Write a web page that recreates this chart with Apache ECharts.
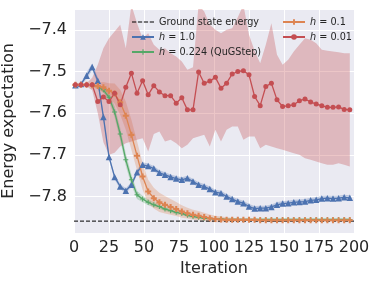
<!DOCTYPE html>
<html>
<head>
<meta charset="utf-8">
<script src="https://cdn.jsdelivr.net/npm/echarts@6/dist/echarts.min.js"></script>
<style>
html,body{margin:0;padding:0;background:#fff;}
#c{width:379px;height:284px;}
</style>
</head>
<body>
<div id="c"></div>
<script>
var iterations = [1,5,9,13,17,21,25,29,33,37,41,45,49,53,57,61,65,69,73,77,81,85,89,93,97,101,105,109,113,117,121,125,129,133,137,141,145,149,153,157,161,165,169,173,177,181,185,189,193,197];
var groundState = -7.859;
var xTicks = [0,25,50,75,100,125,150,175,200];

var h1 = [-7.533,-7.530,-7.510,-7.489,-7.522,-7.609,-7.705,-7.753,-7.776,-7.786,-7.772,-7.742,-7.724,-7.727,-7.733,-7.743,-7.748,-7.753,-7.757,-7.760,-7.756,-7.764,-7.772,-7.776,-7.782,-7.790,-7.792,-7.800,-7.806,-7.812,-7.816,-7.824,-7.829,-7.828,-7.828,-7.825,-7.820,-7.817,-7.816,-7.814,-7.813,-7.812,-7.809,-7.808,-7.805,-7.804,-7.805,-7.804,-7.802,-7.803];
var h1Spread = [0.002,0.003,0.008,0.008,0.008,0.007,0.006,0.006,0.006,0.006,0.006,0.006,0.006,0.006,0.006,0.006,0.006,0.006,0.006,0.006,0.006,0.006,0.006,0.006,0.006,0.006,0.006,0.006,0.006,0.006,0.006,0.006,0.006,0.006,0.006,0.006,0.006,0.006,0.006,0.006,0.006,0.006,0.006,0.006,0.006,0.006,0.006,0.006,0.006,0.006];

var h0224 = [-7.532,-7.532,-7.532,-7.533,-7.536,-7.544,-7.562,-7.597,-7.650,-7.712,-7.760,-7.796,-7.806,-7.814,-7.820,-7.824,-7.830,-7.834,-7.838,-7.841,-7.845,-7.848,-7.850,-7.852,-7.853,-7.854,-7.854,-7.855,-7.855,-7.855,-7.855,-7.855,-7.855,-7.855,-7.855,-7.855,-7.855,-7.855,-7.855,-7.855,-7.855,-7.855,-7.855,-7.855,-7.855,-7.855,-7.855,-7.855,-7.855,-7.855];
var h0224Spread = [0.001,0.001,0.001,0.002,0.003,0.006,0.010,0.013,0.015,0.015,0.013,0.010,0.008,0.007,0.006,0.006,0.005,0.005,0.005,0.004,0.004,0.004,0.004,0.003,0.003,0.003,0.003,0.003,0.003,0.002,0.002,0.002,0.002,0.002,0.002,0.002,0.002,0.002,0.002,0.002,0.002,0.002,0.002,0.002,0.002,0.002,0.002,0.002,0.002,0.002];

var h01 = [-7.532,-7.532,-7.532,-7.533,-7.535,-7.538,-7.546,-7.553,-7.574,-7.606,-7.652,-7.702,-7.752,-7.788,-7.804,-7.814,-7.820,-7.825,-7.830,-7.836,-7.840,-7.844,-7.846,-7.849,-7.852,-7.854,-7.855,-7.856,-7.856,-7.856,-7.856,-7.856,-7.856,-7.857,-7.857,-7.857,-7.857,-7.857,-7.857,-7.857,-7.857,-7.857,-7.857,-7.857,-7.857,-7.857,-7.857,-7.857,-7.857,-7.857];
var h01Spread = [0.001,0.001,0.001,0.004,0.008,0.013,0.018,0.024,0.030,0.034,0.036,0.035,0.032,0.028,0.025,0.023,0.021,0.019,0.017,0.015,0.013,0.012,0.011,0.010,0.009,0.008,0.007,0.006,0.005,0.004,0.003,0.003,0.003,0.003,0.003,0.003,0.003,0.003,0.003,0.003,0.003,0.003,0.003,0.003,0.003,0.003,0.003,0.003,0.003,0.003];

var h001 = [-7.532,-7.532,-7.532,-7.532,-7.572,-7.561,-7.572,-7.552,-7.580,-7.538,-7.504,-7.552,-7.522,-7.556,-7.534,-7.549,-7.558,-7.558,-7.576,-7.563,-7.592,-7.592,-7.501,-7.528,-7.523,-7.514,-7.540,-7.528,-7.506,-7.500,-7.498,-7.508,-7.560,-7.582,-7.536,-7.528,-7.568,-7.584,-7.582,-7.580,-7.570,-7.566,-7.573,-7.578,-7.582,-7.586,-7.586,-7.585,-7.591,-7.592];
var h001Upper = [-7.530,-7.530,-7.528,-7.515,-7.484,-7.444,-7.420,-7.404,-7.388,-7.444,-7.340,-7.384,-7.420,-7.408,-7.436,-7.448,-7.444,-7.456,-7.464,-7.476,-7.496,-7.490,-7.340,-7.356,-7.388,-7.400,-7.408,-7.400,-7.396,-7.370,-7.340,-7.412,-7.450,-7.480,-7.436,-7.384,-7.460,-7.484,-7.472,-7.452,-7.436,-7.420,-7.424,-7.432,-7.448,-7.450,-7.452,-7.454,-7.456,-7.456];
var h001Lower = [-7.534,-7.534,-7.536,-7.545,-7.600,-7.670,-7.700,-7.695,-7.680,-7.672,-7.668,-7.664,-7.660,-7.692,-7.650,-7.644,-7.668,-7.664,-7.672,-7.684,-7.676,-7.660,-7.656,-7.652,-7.680,-7.640,-7.668,-7.640,-7.632,-7.632,-7.664,-7.656,-7.656,-7.684,-7.676,-7.680,-7.684,-7.688,-7.692,-7.696,-7.700,-7.708,-7.712,-7.716,-7.720,-7.724,-7.724,-7.720,-7.724,-7.728];

var C = {blue:'#4C72B0', green:'#55A868', orange:'#DD8452', red:'#C44E52'};
var plusThick = 'path://M-1.1,-3.2H1.1V-1.1H3.2V1.1H1.1V3.2H-1.1V1.1H-3.2V-1.1H-1.1Z';
var plusThin = 'path://M-0.6,-3H0.6V-0.6H3V0.6H0.6V3H-0.6V0.6H-3V-0.6H-0.6Z';
var dashIcon = 'path://M0,0H4V1H0Z M5.6,0H9.6V1H5.6Z M11.2,0H15.2V1H11.2Z M16.8,0H20.8V1H16.8Z';

function pairs(vals){ return iterations.map(function(x,i){ return [x, vals[i]]; }); }
function addSub(v, s, sign){ return v.map(function(a,i){ return a + sign*s[i]; }); }

function band(lower, upper, color, alpha){
  return {
    type:'custom', silent:true, z:2,
    data:[[iterations[0], lower[0]]],
    renderItem:function(params, api){
      var pts = [], i;
      for (i = 0; i < iterations.length; i++) pts.push(api.coord([iterations[i], upper[i]]));
      for (i = iterations.length - 1; i >= 0; i--) pts.push(api.coord([iterations[i], lower[i]]));
      var cs = params.coordSys;
      return {type:'polygon', shape:{points:pts},
        style:{fill:color, opacity:alpha, stroke:null},
        clipPath:{type:'rect', shape:{x:cs.x, y:cs.y, width:cs.width, height:cs.height}}};
    }
  };
}

var series = [];
series.push({type:'line', name:'Ground state energy', data:[[xTicks[0],groundState],[xTicks[xTicks.length-1],groundState]],
  symbol:'none', lineStyle:{color:'#000', width:1, type:[4,2]}, itemStyle:{color:'#000'}, z:3});
series.push(band(addSub(h1,h1Spread,-1), addSub(h1,h1Spread,1), C.blue, 0.3));
series.push({type:'line', name:'h=1.0', data:pairs(h1), symbol:'triangle', symbolSize:6.5,
  lineStyle:{color:C.blue, width:1.3}, itemStyle:{color:C.blue}, z:3});
series.push(band(addSub(h0224,h0224Spread,-1), addSub(h0224,h0224Spread,1), C.green, 0.3));
series.push({type:'line', name:'h=0.224 (QuGStep)', data:pairs(h0224), symbol:plusThin, symbolSize:5,
  lineStyle:{color:C.green, width:1.3}, itemStyle:{color:C.green}, z:3});
series.push(band(addSub(h01,h01Spread,-1), addSub(h01,h01Spread,1), C.orange, 0.3));
series.push({type:'line', name:'h=0.1', data:pairs(h01), symbol:plusThick, symbolSize:6,
  lineStyle:{color:C.orange, width:1.3}, itemStyle:{color:C.orange}, z:3});
series.push(band(h001Lower, h001Upper, C.red, 0.32));
series.push({type:'line', name:'h=0.01', data:pairs(h001), symbol:'circle', symbolSize:5,
  lineStyle:{color:C.red, width:1.3}, itemStyle:{color:C.red}, z:3});

function legendFmt(name){
  if (name.indexOf('h=') === 0) {
    return '{i|h}{n| = ' + name.slice(2) + '}';
  }
  return '{n|' + name + '}';
}
var legendText = {fontFamily:'DejaVu Sans', fontSize:9.7, color:'#262626', lineHeight:12,
  rich:{ i:{fontStyle:'italic', fontFamily:'DejaVu Sans', fontSize:9.7, color:'#262626'},
         n:{fontFamily:'DejaVu Sans', fontSize:9.7, color:'#262626'} }};

var chart = echarts.init(document.getElementById('c'), null, {renderer:'canvas'});
chart.setOption({
  animation:false,
  backgroundColor:'#ffffff',
  textStyle:{fontFamily:'DejaVu Sans'},
  grid:{left:74, right:25, top:9, bottom:51, show:true, backgroundColor:'#EAEAF2', borderWidth:0,
        containLabel:false, outerBoundsMode:'none'},
  legend:[
    {data:[{name:'Ground state energy', icon:dashIcon},'h=1.0','h=0.224 (QuGStep)'], orient:'vertical', left:126, top:11,
     itemWidth:22, itemHeight:7, itemGap:3, formatter:legendFmt, textStyle:legendText, selectedMode:false},
    {data:['h=0.1','h=0.01'], orient:'vertical', left:277, top:11,
     itemWidth:22, itemHeight:7, itemGap:3, formatter:legendFmt, textStyle:legendText, selectedMode:false}
  ],
  xAxis:{type:'value', min:xTicks[0], max:xTicks[xTicks.length-1], interval:25,
    name:'Iteration', nameLocation:'middle', nameGap:26,
    nameTextStyle:{fontFamily:'DejaVu Sans', fontSize:16, color:'#262626'},
    axisLine:{show:false}, axisTick:{show:false},
    axisLabel:{fontFamily:'DejaVu Sans', fontSize:16, color:'#262626', margin:7},
    splitLine:{show:true, lineStyle:{color:'#ffffff', width:1}}},
  yAxis:{type:'value', min:-7.8875, max:-7.35, splitNumber:5,
    name:'Energy expectation', nameLocation:'middle', nameGap:50,
    nameTextStyle:{fontFamily:'DejaVu Sans', fontSize:16, color:'#262626'},
    axisLine:{show:false}, axisTick:{show:false},
    axisLabel:{fontFamily:'DejaVu Sans', fontSize:16, color:'#262626', margin:7, showMinLabel:false, showMaxLabel:false,
      formatter:function(v){ return v.toFixed(1).replace('-', '\u2212'); }},
    splitLine:{show:true, lineStyle:{color:'#ffffff', width:1}}},
  series:series
});
</script>
</body>
</html>
